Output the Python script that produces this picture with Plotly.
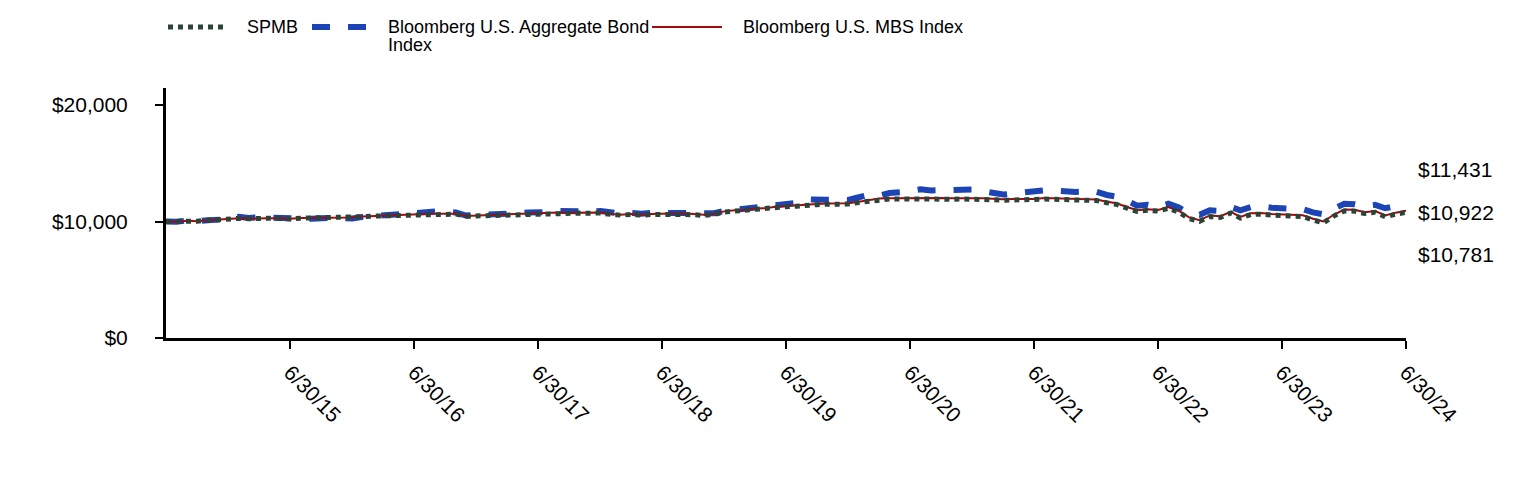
import pandas as pd
import plotly.graph_objects as go

# Monthly month-end dates, 6/30/14 .. 6/30/24
dates = pd.date_range("2014-06-30", "2024-06-30", freq="ME")

spmb = [10000, 9984, 10058, 10027, 10106, 10175, 10194,
        10263, 10242, 10291, 10280, 10269, 10218, 10287, 10296, 10355, 10359, 10348, 10322,
        10421, 10460, 10489, 10508, 10522, 10606, 10625, 10644, 10663, 10632, 10451, 10480,
        10509, 10558, 10557, 10616, 10665, 10634, 10683, 10742, 10711, 10720, 10709, 10728,
        10607, 10546, 10595, 10544, 10603, 10612, 10601, 10660, 10589, 10518, 10607, 10816,
        10905, 10904, 11063, 11082, 11201, 11270, 11309, 11428, 11447, 11486, 11495, 11494,
        11633, 11762, 11901, 11930, 11939, 11918, 11927, 11926, 11935, 11914, 11933, 11932,
        11911, 11870, 11819, 11858, 11847, 11846, 11925, 11904, 11863, 11842, 11861, 11800,
        11609, 11468, 11157, 10866, 10955, 10894, 11133, 10802, 10251, 10020, 10419, 10348,
        10727, 10296, 10595, 10634, 10543, 10512, 10501, 10430, 10129, 9888, 10467, 10906,
        10885, 10684, 10783, 10402, 10641, 10781]

agg = [10000, 9975, 10085, 10016, 10114, 10186, 10195,
       10409, 10311, 10359, 10322, 10297, 10185, 10256, 10242, 10311, 10313, 10286, 10253,
       10395, 10469, 10565, 10605, 10608, 10799, 10867, 10855, 10849, 10766, 10511, 10526,
       10547, 10618, 10613, 10695, 10777, 10766, 10812, 10910, 10857, 10864, 10850, 10900,
       10775, 10673, 10741, 10662, 10737, 10724, 10726, 10795, 10726, 10641, 10705, 10902,
       11018, 11011, 11222, 11225, 11425, 11569, 11594, 11894, 11831, 11867, 11861, 11853,
       12081, 12298, 12225, 12443, 12502, 12581, 12768, 12665, 12659, 12602, 12725, 12743,
       12651, 12469, 12313, 12410, 12451, 12538, 12679, 12655, 12545, 12541, 12579, 12546,
       12276, 12139, 11801, 11354, 11427, 11248, 11522, 11196, 10712, 10573, 10962, 10913,
       11249, 10958, 11236, 11305, 11181, 11141, 11133, 11062, 10781, 10611, 11092, 11517,
       11486, 11324, 11428, 11139, 11328, 11431]

mbs = [10000, 9985, 10060, 10030, 10110, 10180, 10200,
       10270, 10250, 10300, 10290, 10280, 10230, 10300, 10310, 10370, 10375, 10365, 10340,
       10440, 10480, 10510, 10530, 10545, 10630, 10650, 10670, 10690, 10660, 10480, 10510,
       10540, 10590, 10590, 10650, 10700, 10670, 10720, 10780, 10750, 10760, 10750, 10770,
       10650, 10590, 10640, 10590, 10650, 10660, 10650, 10710, 10640, 10570, 10660, 10870,
       10960, 10960, 11120, 11140, 11260, 11330, 11370, 11490, 11510, 11550, 11560, 11560,
       11700, 11830, 11970, 12000, 12010, 11990, 12000, 12000, 12010, 11990, 12010, 12010,
       11990, 11950, 11900, 11940, 11930, 11930, 12010, 11990, 11950, 11930, 11950, 11890,
       11700, 11560, 11250, 10960, 11050, 10990, 11230, 10900, 10350, 10120, 10520, 10450,
       10830, 10400, 10700, 10740, 10650, 10620, 10610, 10540, 10240, 10000, 10580, 11020,
       11000, 10800, 10900, 10520, 10760, 10922]

series_names = ["SPMB", "Bloomberg U.S. Aggregate Bond Index", "Bloomberg U.S. MBS Index"]
x_tick_vals = ["2015-06-30", "2016-06-30", "2017-06-30", "2018-06-30", "2019-06-30",
               "2020-06-30", "2021-06-30", "2022-06-30", "2023-06-30", "2024-06-30"]
x_tick_text = ["6/30/15", "6/30/16", "6/30/17", "6/30/18", "6/30/19",
               "6/30/20", "6/30/21", "6/30/22", "6/30/23", "6/30/24"]
y_tick_vals = [0, 10000, 20000]
y_tick_text = ["$0", "$10,000", "$20,000"]
end_labels = ["$11,431", "$10,922", "$10,781"]

GREEN = "#2b4438"
BLUE = "#1c44b4"
RED = "#a30a0a"
FONT = "Arial, 'Liberation Sans', sans-serif"

fig = go.Figure()
fig.add_trace(go.Scatter(x=dates, y=agg, mode="lines", name=series_names[1],
                         line=dict(color=BLUE, width=6, dash="dash"), showlegend=False))
fig.add_trace(go.Scatter(x=dates, y=mbs, mode="lines", name=series_names[2],
                         line=dict(color=RED, width=2), showlegend=False))
fig.add_trace(go.Scatter(x=dates, y=spmb, mode="lines", name=series_names[0],
                         line=dict(color=GREEN, width=5, dash="dot"), showlegend=False))

# page-pixel geometry (the page body adds an 8px offset)
OFF = 8
FIG_W, FIG_H = 1524 - OFF * 2, 480 - OFF * 2
L, R, T, B = 166, 1406, 88, 338
W, H = R - L, B - T


def px(xp):
    return (xp - L) / W


def py(yp):
    return (B - yp) / H


shapes = [
    dict(type="line", xref="paper", yref="paper", x0=px(168), x1=px(226), y0=py(27), y1=py(27),
         line=dict(color=GREEN, width=5, dash="dot")),
    dict(type="line", xref="paper", yref="paper", x0=px(312), x1=px(372), y0=py(27), y1=py(27),
         line=dict(color=BLUE, width=6, dash="dash")),
    dict(type="line", xref="paper", yref="paper", x0=px(652), x1=px(722), y0=py(27), y1=py(27),
         line=dict(color=RED, width=2)),
]

LEG = dict(size=18, color="#000", family=FONT)
annotations = [
    dict(xref="paper", yref="paper", x=px(245), y=py(27), text=series_names[0],
         xanchor="left", yanchor="middle", showarrow=False, font=LEG),
    dict(xref="paper", yref="paper", x=px(386), y=py(27), text="Bloomberg U.S. Aggregate Bond",
         xanchor="left", yanchor="middle", showarrow=False, font=LEG),
    dict(xref="paper", yref="paper", x=px(386), y=py(45), text="Index",
         xanchor="left", yanchor="middle", showarrow=False, font=LEG),
    dict(xref="paper", yref="paper", x=px(741), y=py(27), text=series_names[2],
         xanchor="left", yanchor="middle", showarrow=False, font=LEG),
]
for lab, yp in zip(end_labels, [169, 212, 255]):
    annotations.append(dict(xref="paper", yref="paper", x=px(1416), y=py(yp), text=lab,
                            xanchor="left", yanchor="middle", showarrow=False,
                            font=dict(size=21, color="#000", family=FONT)))

fig.update_layout(
    width=FIG_W, height=FIG_H,
    margin=dict(l=L - OFF, r=FIG_W - (R - OFF), t=T - OFF, b=FIG_H - (B - OFF)),
    paper_bgcolor="white", plot_bgcolor="white",
    font=dict(family=FONT, size=20, color="#000"),
    showlegend=False,
    shapes=shapes,
    annotations=annotations,
    xaxis=dict(
        type="date",
        range=["2014-06-30", "2024-06-30"],
        tickvals=x_tick_vals, ticktext=x_tick_text,
        tickangle=45,
        ticks="outside", ticklen=8, tickwidth=2, tickcolor="#000",
        showline=True, linewidth=3, linecolor="#000",
        showgrid=False, zeroline=False,
        tickfont=dict(size=21, family=FONT),
        ticklabelstandoff=3,
    ),
    yaxis=dict(
        range=[0, 21460],
        tickvals=y_tick_vals, ticktext=y_tick_text,
        ticks="outside", ticklen=8, tickwidth=2, tickcolor="#000",
        showline=True, linewidth=3, linecolor="#000",
        showgrid=False, zeroline=False,
        tickfont=dict(size=21, family=FONT),
        ticklabelstandoff=23,
    ),
)

fig.write_html("out.html")
